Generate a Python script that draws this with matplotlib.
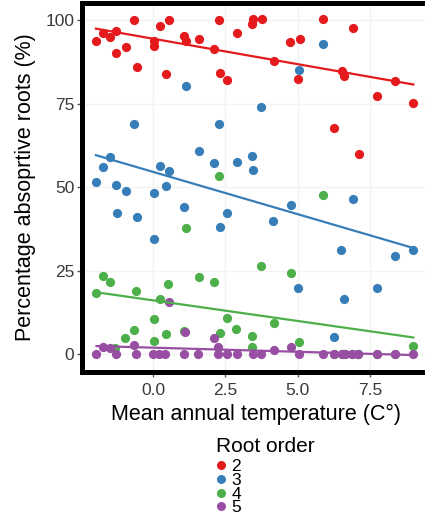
import numpy as np
import matplotlib.pyplot as plt
from matplotlib.lines import Line2D

plt.rcParams['font.family'] = ['Liberation Sans', 'DejaVu Sans']

# 根序 2~5 的吸收根比例 vs 年均温
orders = ['2', '3', '4', '5']
colors = ['#E41A1C', '#377EB8', '#4DAF4A', '#984EA3']

x2 = [-1.97, -1.74, -1.49, -1.28, -1.28, -0.93, -0.65, -0.56, 0.05, 0.05, 0.24, 0.55,
      0.44, 1.08, 1.13, 1.59, 2.12, 2.28, 2.31, 2.57, 2.89, 3.41, 3.44, 3.75, 5.88,
      6.90, 4.73, 5.08, 4.18, 5.00, 6.52, 6.61, 8.34, 7.73, 8.99, 6.26, 7.12]
y2 = [93.9, 96.3, 95.0, 96.9, 90.2, 91.9, 100.1, 86.0, 93.7, 92.2, 98.4, 100.1,
      84.0, 95.4, 93.7, 94.4, 91.5, 100.1, 84.2, 82.0, 96.3, 99.0, 100.4, 100.4, 100.4,
      97.7, 93.5, 94.4, 87.7, 82.4, 84.7, 83.4, 81.7, 77.4, 75.2, 67.7, 60.0]

# 最后一个点被紫色点盖住
x3 = [-1.97, -1.72, -1.49, -1.28, -1.25, -0.93, -0.65, -0.56, 0.05, 0.05, 0.24, 0.44,
      0.55, 1.08, 1.13, 1.59, 2.12, 2.28, 2.31, 2.57, 2.89, 3.41, 3.44, 3.73, 4.16,
      4.76, 5.02, 5.05, 5.88, 6.26, 6.49, 6.61, 6.90, 7.75, 8.34, 8.99, 7.09]
y3 = [51.7, 56.2, 59.0, 50.7, 42.2, 49.0, 69.0, 41.2, 48.2, 34.4, 56.5, 50.5,
      55.0, 44.2, 80.2, 60.9, 57.2, 69.0, 38.2, 42.2, 57.7, 59.5, 55.2, 74.0, 39.9,
      44.7, 20.0, 85.2, 92.9, 5.1, 31.2, 16.6, 46.4, 20.0, 29.4, 31.2, 0]

# 末尾的 0 值同样被紫色点盖住
x4 = [-1.95, -1.72, -1.49, -1.31, -0.97, -0.66, -0.59, 0.03, 0.05, 0.24, 0.45, 0.53,
      1.08, 1.13, 1.59, 2.12, 2.29, 2.31, 2.55, 2.87, 3.43, 3.43, 3.73, 4.18, 4.76,
      5.05, 5.86, 8.99, 6.26, 6.52, 6.63, 6.86, 7.09, 7.73, 8.34]
y4 = [18.3, 23.5, 21.6, 1.8, 5.0, 7.3, 19.0, 10.6, 4.0, 16.6, 6.0, 21.1,
      7.1, 37.9, 23.2, 21.6, 53.5, 6.5, 10.8, 7.6, 5.6, 2.3, 26.5, 9.3, 24.3,
      3.8, 47.7, 2.6, 0, 0, 0, 0, 0, 0, 0]

x5 = [-1.95, -1.29, -0.59, 0.01, 0.21, 0.41, 1.07, 1.56, 2.26, 2.55, 2.89, 3.44,
      3.73, 5.05, 5.88, 6.26, 6.52, 6.63, 6.86, 7.09, 7.73, 8.34, 8.99,
      -1.72, -1.49, -0.65, 0.56, 1.10, 2.11, 2.26, 4.18, 4.76]
y5 = [0, 0, 0, 0, 0, 0, 0, 0, 0, 0, 0, 0,
      0, 0, 0, 0, 0, 0, 0, 0, 0, 0, 0,
      2.3, 2.0, 2.8, 15.8, 6.6, 4.8, 2.3, 1.3, 2.3]

xs = [x2, x3, x4, x5]
ys = [y2, y3, y4, y5]

fig = plt.figure(figsize=(4.25, 5.17), dpi=100)
ax = fig.add_axes([82 / 425, 1 - 372 / 517, 347 / 425, 369 / 517])

for x, y, c in zip(xs, ys, colors):
    ax.scatter(x, y, s=44, color=c, linewidths=0, zorder=3)
for x, y, c in zip(xs, ys, colors):
    x = np.array(x)
    k, b = np.polyfit(x, np.array(y), 1)
    xx = np.array([x.min(), x.max()])
    ax.plot(xx, k * xx + b, color=c, lw=1.6, zorder=4)

ax.set_xlim(-2.45, 9.53)
ax.set_ylim(-5.3, 105.2)
ax.set_xticks([0, 2.5, 5, 7.5])
ax.set_xticklabels(['0.0', '2.5', '5.0', '7.5'])
ax.set_yticks([0, 25, 50, 75, 100])
ax.grid(True, color='#f3f3f3', lw=1)
ax.set_axisbelow(True)
for s in ax.spines.values():
    s.set_linewidth(3.6)
    s.set_color('black')
ax.tick_params(length=3.5, width=1, color='#555555', labelsize=12.5,
               labelcolor='#3a3a3a')
ax.tick_params(axis='x', pad=4.5)
ax.tick_params(axis='y', pad=2)

ax.set_xlabel('Mean annual temperature (C°)', fontsize=15.5, labelpad=4)
ax.set_ylabel('Percentage absoprtive roots (%)', fontsize=15.5, labelpad=7)

fig.text(216 / 425, 1 - 447 / 517, 'Root order', fontsize=15, va='center', ha='left')
handles = [Line2D([], [], ls='', marker='o', ms=6.5, mec='none', mfc=c) for c in colors]
fig.legend(handles, orders, loc='upper left',
           bbox_to_anchor=(216 / 425, 1 - 459 / 517), frameon=False,
           fontsize=12.5, labelspacing=-0.08, borderaxespad=0,
           handlelength=0.6, handletextpad=0.3, borderpad=0)

fig.savefig('out.png', dpi=100)
